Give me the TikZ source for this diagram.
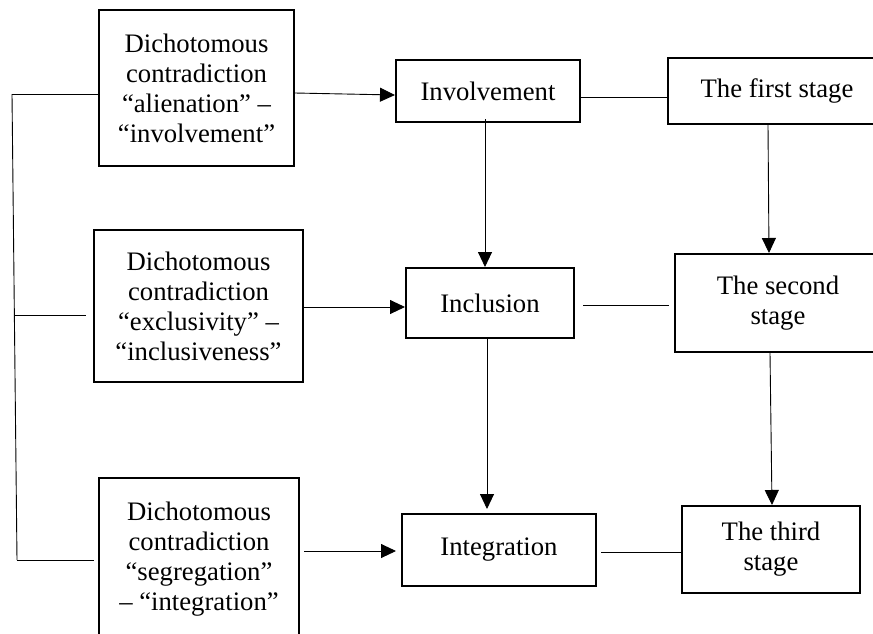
\documentclass[tikz,border=0pt]{standalone}
\usepackage{fontspec}
\setmainfont{Liberation Serif}
\usetikzlibrary{arrows.meta,calc}
\begin{document}
\begin{tikzpicture}[x=1pt,y=-1pt,
  box/.style={draw=black,line width=2pt,rectangle,align=center,inner sep=0pt,
    font=\fontsize{26.7}{30}\selectfont},
  conn/.style={draw=black,line width=0.9pt},
  arr/.style={conn,-{Triangle[length=15pt,width=14pt]}}]
\useasboundingbox (0,0) rectangle (873,633);
% left column
\node[box,minimum width=195pt,minimum height=156pt] (A1) at (196.5,88)
  {Dichotomous\\contradiction\\“alienation” –\\“involvement”};
\node[box,minimum width=209pt,minimum height=152pt] (A2) at (198.5,306)
  {Dichotomous\\contradiction\\“exclusivity” –\\“inclusiveness”};
\node[box,minimum width=200pt,minimum height=162pt] (A3) at (199,559)
  {Dichotomous\\contradiction\\“segregation”\\– “integration”};
% middle column
\node[box,minimum width=184pt,minimum height=62pt] (Inv) at (488,91) {Involvement};
\node[box,minimum width=168pt,minimum height=70pt] (Incl) at (490,303) {Inclusion};
\node[box,minimum width=194pt,minimum height=72pt] (Integ) at (499,550) {Integration};
% right column
\node[box,minimum width=218pt,minimum height=66pt] (S1) at (777,91) {The first stage};
\node[box,minimum width=206pt,minimum height=98pt] (S2) at (778,303) {The second\\stage};
\node[box,minimum width=178pt,minimum height=87pt] (S3) at (771,549.5) {The third\\stage};
% bracket
\coordinate (bt) at (12,94);
\coordinate (bm) at (14,315);
\coordinate (bb) at (17,560);
\draw[conn] (bt) -- (bb);
\draw[conn] (bt) -- (bt -| A1.west);
\draw[conn] (bm) -- ([xshift=-7pt]bm -| A2.west);
\draw[conn] (bb) -- ([xshift=-4pt]bb -| A3.west);
% horizontal arrows
\draw[arr] ([yshift=-5pt]A1.east) -- ([yshift=-4pt]Inv.west);
\draw[arr] ([yshift=-1pt]A2.east) -- ([yshift=-1pt]A2.east -| Incl.west);
\draw[arr,shorten >=5pt,shorten <=4pt] ([yshift=8pt]A3.east) -- ([yshift=8pt]A3.east -| Integ.west);
% horizontal lines
\draw[conn] ([yshift=-6pt]Inv.east) -- ([yshift=-6pt]Inv.east -| S1.west);
\draw[conn,shorten <=8pt,shorten >=5pt] ([yshift=-2pt]Incl.east) -- ([yshift=-2pt]Incl.east -| S2.west);
\draw[conn,shorten <=4pt] ([yshift=-2pt]Integ.east) -- ([yshift=-2pt]Integ.east -| S3.west);
% vertical arrows
\draw[arr] ([xshift=-3pt,yshift=4pt]Inv.south) -- ([xshift=-3pt]Inv.south |- Incl.north);
\draw[arr,shorten >=4pt] ([xshift=-3pt]Incl.south) -- ([xshift=-3pt]Incl.south |- Integ.north);
\draw[arr] ([xshift=-9pt]S1.south) -- ([xshift=-8pt]S1.south |- S2.north);
\draw[arr] ([xshift=-8pt]S2.south) -- ([xshift=1pt]S3.north);
\end{tikzpicture}
\end{document}
